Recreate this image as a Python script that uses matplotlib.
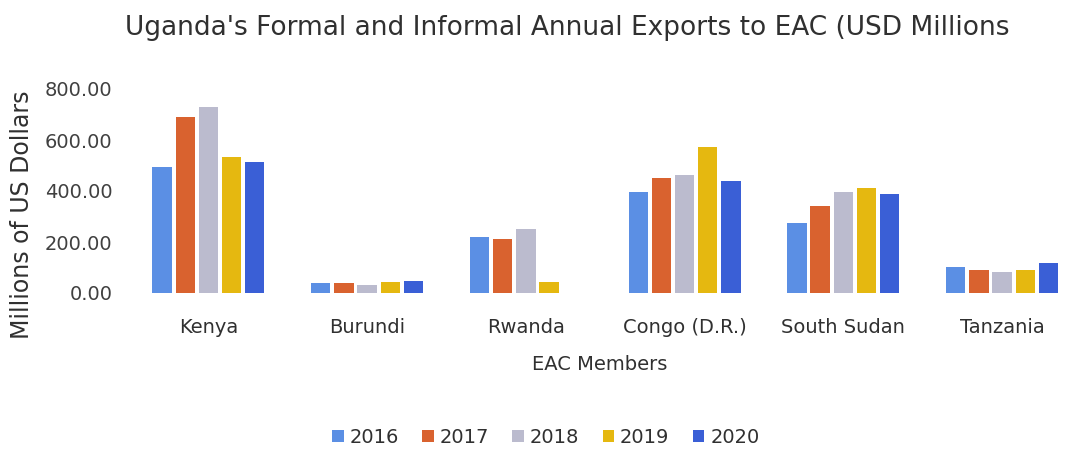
import matplotlib
matplotlib.use("Agg")
import matplotlib.pyplot as plt
import numpy as np

categories = ["Kenya", "Burundi", "Rwanda", "Congo (D.R.)", "South Sudan", "Tanzania"]
years = ["2016", "2017", "2018", "2019", "2020"]
v2016 = [495, 38, 218, 395, 275, 102]
v2017 = [690, 38, 212, 452, 340, 92]
v2018 = [728, 32, 250, 462, 396, 82]
v2019 = [532, 44, 44, 572, 410, 92]
v2020 = [515, 48, 0, 438, 388, 117]
series = [v2016, v2017, v2018, v2019, v2020]
colors = ["#5B8FE4", "#D9622F", "#BBBBCE", "#E5B810", "#3A5FD6"]
yticks = [0, 200, 400, 600, 800]

plt.rcParams['font.family'] = ['DejaVu Sans']
fig = plt.figure(figsize=(10.70, 4.51), dpi=100)
ax = fig.add_axes([129/1070, 1-293/451, 1-129/1070, 204/451])

x = np.arange(len(categories))
step = 0.146
width = 0.122
for i, (vals, col, yr) in enumerate(zip(series, colors, years)):
    ax.bar(x + (i - 2) * step, vals, width=width, color=col, label=yr)

ax.set_xlim(-0.5, (1070-208)/158.8)
ax.set_ylim(0, 800)
ax.set_yticks(yticks)
ax.set_yticklabels([f"{v:.2f}" for v in yticks], fontsize=14, color="#404040")
ax.set_xticks(x)
ax.set_xticklabels(categories, fontsize=14, color="#303030")
ax.tick_params(axis='both', length=0)
ax.tick_params(axis='x', pad=18)
ax.tick_params(axis='y', pad=12)
for s in ax.spines.values():
    s.set_visible(False)

ax.set_xlabel("EAC Members", fontsize=14, color="#303030", labelpad=13)
fig.text(22/1070, 1-215/451, "Millions of US Dollars", rotation=90,
         ha="center", va="center", fontsize=17, color="#303030")

fig.text(0.53, 0.938, "Uganda's Formal and Informal Annual Exports to EAC (USD Millions",
         ha="center", va="center", fontsize=19, color="#303030")

fig.legend(loc="center", bbox_to_anchor=(0.51, 0.03), ncol=5, frameon=False,
           fontsize=14, handlelength=0.6, handleheight=0.6, handletextpad=0.3,
           columnspacing=1.2, labelcolor="#303030")

fig.savefig("out.png", dpi=100)
